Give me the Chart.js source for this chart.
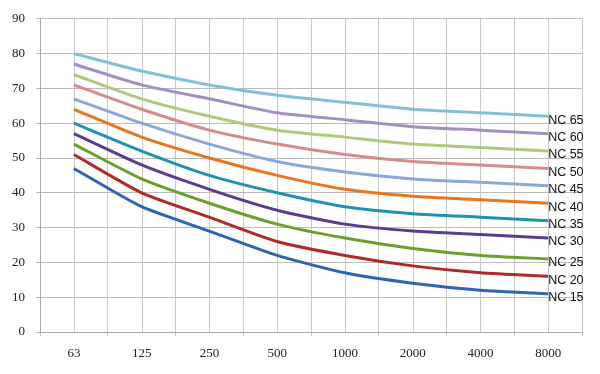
<!DOCTYPE html>
<html lang="en">
<head>
  <meta charset="UTF-8">
  <title>NC curves</title>
  <script src="https://cdn.jsdelivr.net/npm/chart.js"></script>
  <style>
    html, body { margin: 0; padding: 0; background: #fff; }
    #wrap { width: 600px; height: 374px; }
  </style>
</head>
<body>
  <div id="wrap"><canvas id="nc-chart" width="600" height="374"></canvas></div>
  <script>
    // octave band centre frequencies (Hz)
    const freqs = ['63', '125', '250', '500', '1000', '2000', '4000', '8000'];

    const nc15 = [47, 36, 29, 22, 17, 14, 12, 11];
    const nc20 = [51, 40, 33, 26, 22, 19, 17, 16];
    const nc25 = [54, 44, 37, 31, 27, 24, 22, 21];
    const nc30 = [57, 48, 41, 35, 31, 29, 28, 27];
    const nc35 = [60, 52, 45, 40, 36, 34, 33, 32];
    const nc40 = [64, 56, 50, 45, 41, 39, 38, 37];
    const nc45 = [67, 60, 54, 49, 46, 44, 43, 42];
    const nc50 = [71, 64, 58, 54, 51, 49, 48, 47];
    const nc55 = [74, 67, 62, 58, 56, 54, 53, 52];
    const nc60 = [77, 71, 67, 63, 61, 59, 58, 57];
    const nc65 = [80, 75, 71, 68, 66, 64, 63, 62];

    const seriesNames = ['NC 15', 'NC 20', 'NC 25', 'NC 30', 'NC 35', 'NC 40', 'NC 45', 'NC 50', 'NC 55', 'NC 60', 'NC 65'];
    const seriesData = [nc15, nc20, nc25, nc30, nc35, nc40, nc45, nc50, nc55, nc60, nc65];
    const seriesColors = ['#2f64b0', '#b02a2a', '#6c9f2c', '#5b3d8f', '#1f93ad', '#e8761e',
                          '#8ca8d8', '#d48c8c', '#afc97f', '#a390c0', '#83c0d6'];

    const yTicks = [0, 10, 20, 30, 40, 50, 60, 70, 80, 90];

    // extra vertical grid lines through the category centres (Excel style)
    const centreGrid = {
      id: 'centreGrid',
      beforeDatasetsDraw(chart) {
        const ctx = chart.ctx;
        const x = chart.scales.x;
        const area = chart.chartArea;
        ctx.save();
        ctx.strokeStyle = '#c8c8c8';
        ctx.lineWidth = 1;
        for (let i = 0; i < freqs.length; i++) {
          const px = Math.round(x.getPixelForTick(i)) + 0.5;
          ctx.beginPath();
          ctx.moveTo(px, area.top);
          ctx.lineTo(px, area.bottom);
          ctx.stroke();
        }
        ctx.restore();
      }
    };

    // draws "NC xx" next to the last point of each line
    const endLabels = {
      id: 'endLabels',
      afterDatasetsDraw(chart) {
        const ctx = chart.ctx;
        ctx.save();
        ctx.font = '12.5px "Liberation Sans", Arial, sans-serif';
        ctx.fillStyle = '#111';
        ctx.textAlign = 'left';
        ctx.textBaseline = 'middle';
        chart.data.datasets.forEach((ds, i) => {
          const meta = chart.getDatasetMeta(i);
          const pt = meta.data[meta.data.length - 1];
          ctx.fillText(ds.label, pt.x, pt.y + 4);
        });
        ctx.restore();
      }
    };

    new Chart(document.getElementById('nc-chart'), {
      type: 'line',
      data: {
        labels: freqs,
        datasets: seriesData.map((d, i) => ({
          label: seriesNames[i],
          data: d,
          borderColor: seriesColors[i],
          backgroundColor: seriesColors[i],
          borderWidth: 3,
          pointRadius: 0,
          tension: 0.2,
          fill: false
        }))
      },
      options: {
        responsive: false,
        animation: false,
        layout: { padding: { left: 0, right: 18, top: 6, bottom: 0 } },
        plugins: {
          legend: { display: false },
          tooltip: { enabled: false }
        },
        scales: {
          x: {
            type: 'category',
            offset: true,
            grid: { offset: true, color: '#c8c8c8', tickLength: 4 },
            border: { color: '#a8a8a8' },
            ticks: {
              color: '#222',
              padding: 10,
              maxRotation: 0,
              font: { family: '"Liberation Serif", "Times New Roman", serif', size: 13 }
            },
            afterFit(scale) { scale.height = 42; }
          },
          y: {
            min: 0,
            max: 90,
            afterBuildTicks(scale) { scale.ticks = yTicks.map(v => ({ value: v })); },
            grid: { color: '#bcbcbc', tickLength: 4 },
            border: { color: '#a8a8a8' },
            ticks: {
              color: '#222',
              padding: 11,
              font: { family: '"Liberation Serif", "Times New Roman", serif', size: 13 }
            },
            afterFit(scale) { scale.width = 40; }
          }
        }
      },
      plugins: [centreGrid, endLabels]
    });
  </script>
</body>
</html>
